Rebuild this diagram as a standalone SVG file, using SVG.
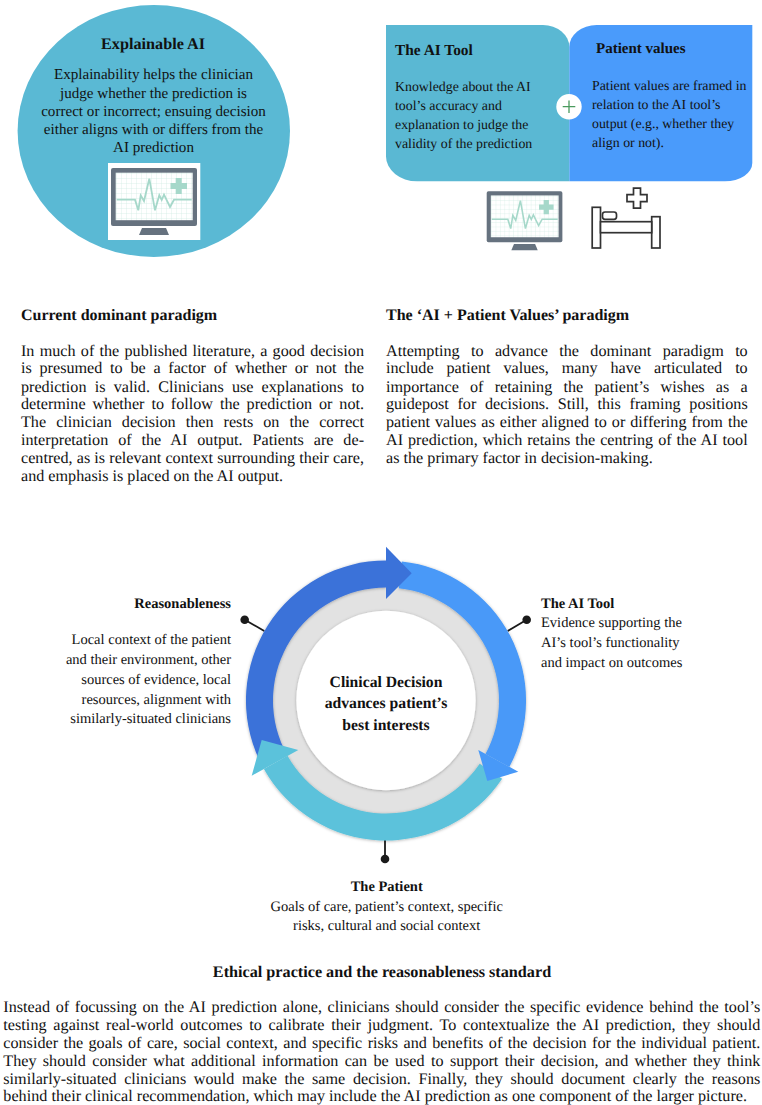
<svg xmlns="http://www.w3.org/2000/svg" width="762" height="1105" viewBox="0 0 762 1105">
<style>
text{font-family:"Liberation Serif","Times New Roman",serif;fill:#111;text-rendering:geometricPrecision}
.b{font-weight:bold}
.h{font-weight:bold;font-size:16px}
.p{font-size:16.15px}
.t{font-size:13.85px}
.m{text-anchor:middle}
.e{text-anchor:end}
.c{stroke:#1a1a1a;stroke-width:1.8;fill:none}
.d{fill:#1a1a1a}
.sh{filter:url(#sh)}
</style>
<defs>
<filter id="sh" x="-10%" y="-10%" width="120%" height="120%"><feDropShadow dx="0" dy="0.6" stdDeviation="1.5" flood-color="#000" flood-opacity="0.3"/></filter>
<pattern id="grid" width="5" height="5" patternUnits="userSpaceOnUse"><rect width="5" height="5" fill="#fff"/><path d="M0 0H5M0 0V5" stroke="#cfe9e2" stroke-width="0.7" fill="none"/></pattern>
<g id="monitor">
<rect x="0" y="0" width="86" height="58" rx="2" fill="#66727f"/>
<rect x="4.7" y="4.7" width="77" height="47.5" fill="url(#grid)"/>
<path d="M5.7 31.7H24L27.3 42.3L29.7 27.3L33 33L38.3 10.7L44 42.3L48.3 27.3L50.7 32L53 26.7L59 39L63 31.7H80.7" fill="none" stroke="#a6d8ca" stroke-width="1.8"/>
<path d="M64.7 10H70.7V15H76V21H70.7V26H64.7V21H59.5V15H64.7Z" fill="#a6d8ca"/>
<path d="M28 67L31 60H55L58 67Z" fill="#66727f"/>
</g>
</defs>
<rect width="762" height="1105" fill="#fff"/>

<g id="explainable-ai">
<ellipse cx="153.8" cy="131" rx="136.2" ry="126" fill="#5ab9d4"/>
<text class="b m" x="153" y="49" font-size="16.2">Explainable AI</text>
<text class="m" x="153.5" y="79" font-size="15.1">Explainability helps the clinician</text>
<text class="m" x="153.5" y="98" font-size="15.1">judge whether the prediction is</text>
<text class="m" x="153.5" y="116" font-size="15.1">correct or incorrect; ensuing decision</text>
<text class="m" x="153.5" y="134" font-size="15.1">either aligns with or differs from the</text>
<text class="m" x="153.5" y="152" font-size="15.1">AI prediction</text>
<rect x="108" y="163" width="92.3" height="77" fill="#fff"/>
<use href="#monitor" x="111" y="168"/>
</g>

<g id="ai-tool-box">
<path d="M386 25H543A26.3 22 0 0 1 569.3 47V181.3H417A31 25 0 0 1 386 156.3Z" fill="#5ab8d3"/>
<text class="b" x="395" y="55" font-size="15.4">The AI Tool</text>
<text class="t" x="395" y="91">Knowledge about the AI</text>
<text class="t" x="395" y="110">tool’s accuracy and</text>
<text class="t" x="395" y="129">explanation to judge the</text>
<text class="t" x="395" y="148">validity of the prediction</text>
<use href="#monitor" transform="translate(486.7 191.3) scale(0.88)"/>
</g>

<g id="patient-values-box">
<path d="M569.3 181.3V47A27.3 22 0 0 1 596.6 25H752.3V163A27.3 18.3 0 0 1 725 181.3Z" fill="#4a9bfb"/>
<text class="b" x="596" y="53" font-size="15">Patient values</text>
<text class="t" x="592" y="90">Patient values are framed in</text>
<text class="t" x="592" y="109">relation to the AI tool’s</text>
<text class="t" x="592" y="128">output (e.g., whether they</text>
<text class="t" x="592" y="147">align or not).</text>
<g fill="#fff" stroke="#333" stroke-width="1.7">
<rect x="592.2" y="207.3" width="8.3" height="40.7"/>
<rect x="651.7" y="216.7" width="8.3" height="31.3"/>
<rect x="600.5" y="221.7" width="51.2" height="11"/>
<rect x="602.5" y="212" width="14" height="7.3" rx="2.5"/>
<path d="M633.5 188.2H640.5V194.7H647V201.7H640.5V208.2H633.5V201.7H627V194.7H633.5Z"/>
</g>
</g>

<g id="plus">
<circle cx="569" cy="106.7" r="12.7" fill="#fff"/>
<path d="M569 100.5V113M562.7 106.7H575.3" stroke="#4a9a5e" stroke-width="1.3" fill="none"/>
</g>

<g id="current-paradigm">
<text class="h" x="21" y="320">Current dominant paradigm</text>
<text class="p" x="21" y="355.7" textLength="343" word-spacing="1.21">In much of the published literature, a good decision</text>
<text class="p" x="21" y="373.4" textLength="343" word-spacing="3.71">is presumed to be a factor of whether or not the</text>
<text class="p" x="21" y="391.5" textLength="343" word-spacing="4.16">prediction is valid. Clinicians use explanations to</text>
<text class="p" x="21" y="409.3" textLength="343" word-spacing="2.86">determine whether to follow the prediction or not.</text>
<text class="p" x="21" y="427.3" textLength="343" word-spacing="6">The clinician decision then rests on the correct</text>
<text class="p" x="21" y="445.1" textLength="343" word-spacing="5.81">interpretation of the AI output. Patients are de-</text>
<text class="p" x="21" y="463.2" textLength="343" word-spacing="0.11">centred, as is relevant context surrounding their care,</text>
<text class="p" x="21" y="481" textLength="262">and emphasis is placed on the AI output.</text>
</g>

<g id="ai-patient-paradigm">
<text class="h" x="386" y="320">The ‘AI + Patient Values’ paradigm</text>
<text class="p" x="386" y="355.7" textLength="361.7" word-spacing="7.35">Attempting to advance the dominant paradigm to</text>
<text class="p" x="386" y="373.4" textLength="361.7" word-spacing="8.93">include patient values, many have articulated to</text>
<text class="p" x="386" y="391.5" textLength="361.7" word-spacing="7.13">importance of retaining the patient’s wishes as a</text>
<text class="p" x="386" y="409.3" textLength="361.7" word-spacing="4.65">guidepost for decisions. Still, this framing positions</text>
<text class="p" x="386" y="427.3" textLength="361.7" word-spacing="0.97">patient values as either aligned to or differing from the</text>
<text class="p" x="386" y="445.1" textLength="361.7" word-spacing="0.92">AI prediction, which retains the centring of the AI tool</text>
<text class="p" x="386" y="463.2" textLength="266.7">as the primary factor in decision-making.</text>
</g>

<g id="connectors">
<path class="c" d="M244.7 619.7L264.3 631"/>
<circle class="d" cx="244.7" cy="619.7" r="4.3"/>
<path class="c" d="M526.7 619.7L507.7 631"/>
<circle class="d" cx="526.7" cy="619.7" r="4.3"/>
<path class="c" d="M385 838V859"/>
<circle class="d" cx="385" cy="859" r="4.3"/>
</g>

<g id="cycle">
<circle class="sh" cx="386" cy="700.5" r="116" fill="#e2e2e2"/>
<circle class="sh" cx="386" cy="700.5" r="89.7" fill="#fff"/>
<g class="sh">
<path fill="#4899f8" d="M401.8 561.4A140 140 0 0 1 509.3 766.9L485.5 754.1A113 113 0 0 0 398.8 588.2Z"/>
<path fill="#5bc2db" d="M502.1 778.8A140 140 0 0 1 263.9 769L287.5 755.8A113 113 0 0 0 479.7 763.7Z"/>
<path fill="#3b72d9" d="M259.1 759.7A140 140 0 0 1 386 560.5V587.5A113 113 0 0 0 283.6 748.3Z"/>
</g>
<path fill="#4899f8" d="M478.3 750L518.3 771.7L487.3 781Z"/>
<path fill="#5bc2db" d="M298.3 750L251.7 775.7L261.7 740Z"/>
<path fill="#3b72d9" d="M386 546.7L411.7 573.3L386 599Z"/>
</g>

<g id="center-label">
<text class="b m" x="386" y="686.7" font-size="15.7">Clinical Decision</text>
<text class="b m" x="386" y="708.3" font-size="15.7">advances patient’s</text>
<text class="b m" x="386" y="730" font-size="15.7">best interests</text>
</g>

<g id="reasonableness">
<text class="b e" x="231" y="607.7" font-size="14.5">Reasonableness</text>
<text class="e" x="231" y="644.3" font-size="14.5">Local context of the patient</text>
<text class="e" x="231" y="664" font-size="14.5">and their environment, other</text>
<text class="e" x="231" y="683.7" font-size="14.5">sources of evidence, local</text>
<text class="e" x="231" y="703.5" font-size="14.5">resources, alignment with</text>
<text class="e" x="231" y="723.3" font-size="14.5">similarly-situated clinicians</text>
</g>

<g id="ai-tool">
<text class="b" x="541" y="607.7" font-size="14.5">The AI Tool</text>
<text x="541" y="627.3" font-size="14.5">Evidence supporting the</text>
<text x="541" y="647" font-size="14.5">AI’s tool’s functionality</text>
<text x="541" y="666.7" font-size="14.5">and impact on outcomes</text>
</g>

<g id="the-patient">
<text class="b m" x="386.7" y="890.7" font-size="14.5">The Patient</text>
<text class="m" x="386.7" y="910.7" font-size="14.5">Goals of care, patient’s context, specific</text>
<text class="m" x="386.7" y="930" font-size="14.5">risks, cultural and social context</text>
</g>

<g id="ethical-practice">
<text class="b m" x="382" y="976.7" font-size="16.2">Ethical practice and the reasonableness standard</text>
<text class="p" x="3.3" y="1011.7" textLength="757" word-spacing="1.59">Instead of focussing on the AI prediction alone, clinicians should consider the specific evidence behind the tool’s</text>
<text class="p" x="3.3" y="1029.7" textLength="757" word-spacing="2.67">testing against real-world outcomes to calibrate their judgment. To contextualize the AI prediction, they should</text>
<text class="p" x="3.3" y="1047.6" textLength="757" word-spacing="1.36">consider the goals of care, social context, and specific risks and benefits of the decision for the individual patient.</text>
<text class="p" x="3.3" y="1065.6" textLength="757" word-spacing="2.32">They should consider what additional information can be used to support their decision, and whether they think</text>
<text class="p" x="3.3" y="1083.5" textLength="757" word-spacing="3.61">similarly-situated clinicians would make the same decision. Finally, they should document clearly the reasons</text>
<text class="p" x="3.3" y="1101" textLength="743.7">behind their clinical recommendation, which may include the AI prediction as one component of the larger picture.</text>
</g>
</svg>
